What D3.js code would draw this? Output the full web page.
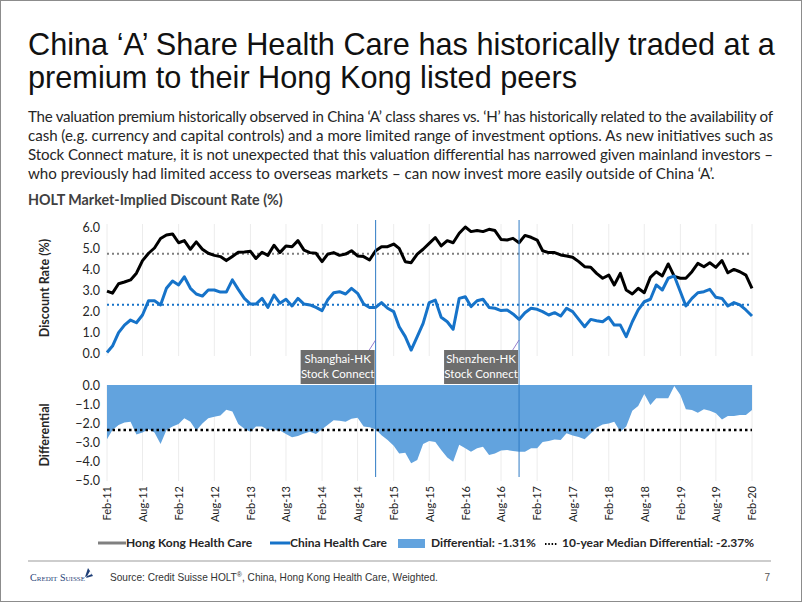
<!DOCTYPE html>
<html><head><meta charset="utf-8">
<script src="https://cdn.jsdelivr.net/npm/d3@7/dist/d3.min.js"></script>
<style>
html,body{margin:0;padding:0;background:#fff;}
svg{display:block;}
</style></head>
<body>
<svg id="chart" width="802" height="602"></svg>
<script>
// ---------- DATA ----------
const startMonth = new Date(2011, 1, 1);   // Feb-11
const endMonth   = new Date(2020, 1, 1);   // Feb-20 (monthly)
const hongKong = [2.95,2.85,3.3,3.38,3.48,3.8,4.4,4.75,5.0,5.45,5.62,5.67,5.25,5.35,4.94,5.29,4.94,4.75,4.65,4.59,
  4.4,4.6,4.8,4.81,4.84,4.5,4.8,4.65,5.13,4.78,5.1,5.06,5.35,4.9,4.78,4.75,4.35,4.7,4.78,4.65,
  4.71,4.87,4.62,4.59,4.43,4.87,5.06,5.06,5.19,4.98,4.35,4.3,4.71,4.94,5.22,5.5,5.1,5.35,5.25,5.7,
  6.0,5.78,5.83,5.78,5.89,5.83,5.41,5.38,5.46,5.25,5.6,5.51,5.38,4.87,4.78,4.78,4.67,4.62,4.56,4.35,
  4.11,4.08,3.79,3.56,3.71,3.24,3.79,3.0,2.81,3.08,2.87,3.6,3.87,3.67,4.24,3.65,3.56,3.56,3.87,4.27,
  4.11,4.3,4.08,4.4,3.82,3.98,3.87,3.71,3.08];
const china = [0.02,0.33,0.97,1.33,1.57,1.44,1.81,2.49,2.49,2.29,3.08,3.43,3.24,3.63,3.08,2.81,2.71,3.0,3.0,2.9,
  2.9,3.48,3.03,2.6,2.33,2.33,2.6,2.17,2.76,2.37,2.56,2.24,2.6,2.33,2.29,2.17,2.02,2.52,2.87,2.92,
  2.81,3.08,2.84,2.33,2.17,2.17,2.4,2.13,1.97,1.25,0.78,0.14,0.78,1.41,2.4,2.52,1.7,1.49,1.13,2.6,
  2.68,2.21,2.49,2.56,2.17,2.13,2.02,2.05,1.86,1.6,1.92,2.13,2.08,1.97,1.81,1.92,1.76,2.13,1.97,1.6,
  1.25,1.6,1.54,1.49,1.7,1.33,1.33,0.78,1.49,2.05,2.44,2.56,3.24,3.0,3.56,3.67,2.92,2.24,2.6,2.87,
  2.92,3.03,2.65,2.6,2.24,2.4,2.29,2.05,1.76];
const differential = [-2.86,-2.37,-2.1,-1.98,-1.93,-2.6,-2.5,-2.33,-2.5,-3.1,-2.37,-2.19,-2.05,-1.75,-1.93,-2.4,-2.02,-1.75,-1.67,-1.6,
  -1.3,-1.4,-2.05,-2.3,-2.46,-2.19,-2.19,-2.37,-2.38,-2.4,-2.58,-2.75,-2.68,-2.55,-2.46,-2.58,-2.33,-2.1,-1.85,-1.88,
  -1.93,-1.78,-1.72,-2.19,-2.23,-2.33,-2.65,-2.9,-3.2,-3.6,-3.56,-4.12,-3.95,-3.1,-2.95,-3.0,-3.42,-3.81,-4.04,-3.15,
  -3.33,-3.51,-3.33,-3.25,-3.68,-3.6,-3.45,-3.42,-3.48,-3.51,-3.51,-3.33,-3.33,-3.0,-2.95,-2.87,-2.89,-2.54,-2.66,-2.74,
  -2.86,-2.55,-2.25,-2.08,-2.02,-1.93,-2.46,-2.19,-1.35,-1.1,-0.47,-1.05,-0.7,-0.7,-0.7,-0.05,-0.53,-1.28,-1.32,-1.46,
  -1.28,-1.35,-1.49,-1.81,-1.63,-1.63,-1.58,-1.58,-1.31];
const hkMedian = 4.73, chinaMedian = 2.3, diffMedian = -2.37;
const topTicks = [0,1,2,3,4,5,6];
const bottomTicks = [0,-1,-2,-3,-4,-5];
const xTickLabels = ["Feb-11","Aug-11","Feb-12","Aug-12","Feb-13","Aug-13","Feb-14","Aug-14","Feb-15","Aug-15",
  "Feb-16","Aug-16","Feb-17","Aug-17","Feb-18","Aug-18","Feb-19","Aug-19","Feb-20"];
const events = [
  {lines:["Shanghai-HK","Stock Connect"], date:new Date(2014,10,1)},
  {lines:["Shenzhen-HK","Stock Connect"], date:new Date(2016,10,1)}
];
const legendItems = ["Hong Kong Health Care","China Health Care","Differential: -1.31%","10-year Median Differential: -2.37%"];
const titleLines = ["China \u2018A\u2019 Share Health Care has historically traded at a","premium to their Hong Kong listed peers"];
const paraLines = [
  "The valuation premium historically observed in China \u2018A\u2019 class shares vs. \u2018H\u2019 has historically related to the availability of",
  "cash (e.g. currency and capital controls) and a more limited range of investment options. As new initiatives such as",
  "Stock Connect mature, it is not unexpected that this valuation differential has narrowed given mainland investors \u2013",
  "who previously had limited access to overseas markets \u2013 can now invest more easily outside of China \u2018A\u2019."
];

// ---------- SETUP ----------
const months = d3.timeMonth.range(startMonth, d3.timeMonth.offset(endMonth, 1));
const parseTick = d3.timeParse("%b-%y");
const tickDates = xTickLabels.map(parseTick);
const svg = d3.select("#chart");
const chartFont = "Lato, 'Open Sans', sans-serif";
const C_BLUE = "#1673c9", C_AREA = "#62a3de", C_TXT = "#262626";

const x = d3.scaleTime().domain([startMonth, endMonth]).range([107, 752]);
const yTop = d3.scaleLinear().domain([0, 6]).range([353, 227]);
const yBot = d3.scaleLinear().domain([-5, 0]).range([480, 385]);

function fitWidth(sel, target) {
  const w = sel.node().getComputedTextLength();
  const fs = parseFloat(sel.attr("font-size"));
  return fs * target / w;
}

// frame
svg.append("rect").attr("x",0.5).attr("y",0.5).attr("width",801).attr("height",601)
  .attr("fill","none").attr("stroke","#8c8c8c").attr("stroke-width",1);

// title
const tl = svg.append("g");
const t1 = tl.append("text").attr("x",28).attr("y",55).attr("font-family","'Liberation Sans', Arial, sans-serif")
  .attr("font-size",30).attr("fill","#111").text(titleLines[0]);
const tfs = fitWidth(t1, 747);
t1.attr("font-size", tfs);
tl.append("text").attr("x",28).attr("y",88).attr("font-family","'Liberation Sans', Arial, sans-serif")
  .attr("font-size",tfs).attr("fill","#111").text(titleLines[1]);

// paragraph
const pg = svg.append("g");
const pBase = [122,141,160,179];
const p4 = pg.append("text").attr("x",28).attr("y",pBase[3]).attr("font-family",chartFont)
  .attr("font-size",14).attr("fill",C_TXT).text(paraLines[3]);
const pfs = fitWidth(p4, 687);
p4.attr("font-size", pfs);
paraLines.slice(0,3).forEach((s,i)=>{
  pg.append("text").attr("x",28).attr("y",pBase[i]).attr("font-family",chartFont)
    .attr("font-size",pfs).attr("fill",C_TXT).attr("textLength",745).attr("lengthAdjust","spacing").text(s);
});

// chart subtitle
const st = svg.append("text").attr("x",28).attr("y",205).attr("font-family",chartFont).attr("font-weight","bold")
  .attr("font-size",13).attr("fill","#404040").text("HOLT Market-Implied Discount Rate (%)");
st.attr("font-size", fitWidth(st, 255));

// gridlines
const grid = svg.append("g").attr("stroke","#ececec").attr("stroke-width",1);
tickDates.forEach(d=>{
  grid.append("line").attr("x1",x(d)).attr("x2",x(d)).attr("y1",224).attr("y2",356);
  grid.append("line").attr("x1",x(d)).attr("x2",x(d)).attr("y1",385).attr("y2",481);
});

// y axes
function styleAxis(g){
  g.select(".domain").remove();
  g.selectAll("line").remove();
  g.selectAll("text").attr("font-family",chartFont).attr("font-size",12.5).attr("fill",C_TXT);
}
svg.append("g").attr("transform","translate(100,0)")
  .call(d3.axisLeft(yTop).tickValues(topTicks).tickFormat(d3.format(".1f")).tickSize(0).tickPadding(0))
  .call(styleAxis);
svg.append("g").attr("transform","translate(100,0)")
  .call(d3.axisLeft(yBot).tickValues(bottomTicks).tickFormat(d3.format(".1f")).tickSize(0).tickPadding(0))
  .call(styleAxis);

// y titles
svg.append("text").attr("transform","translate(49,288) rotate(-90)").attr("text-anchor","middle")
  .attr("font-family",chartFont).attr("font-weight","bold").attr("font-size",12.5).attr("fill",C_TXT).text("Discount Rate (%)");
svg.append("text").attr("transform","translate(49,435) rotate(-90)").attr("text-anchor","middle")
  .attr("font-family",chartFont).attr("font-weight","bold").attr("font-size",12.5).attr("fill",C_TXT).text("Differential");

// x axis (labels only)
const xa = svg.append("g").attr("transform","translate(0,484)")
  .call(d3.axisBottom(x).tickValues(tickDates).tickFormat(d3.timeFormat("%b-%y")).tickSize(0));
xa.select(".domain").remove();
xa.selectAll("text").attr("font-family",chartFont).attr("font-size",11).attr("fill",C_TXT)
  .attr("transform","rotate(-90)").attr("text-anchor","end").attr("x",-2).attr("y",0).attr("dy","0.35em");

// differential area
const area = d3.area().x((d,i)=>x(months[i])).y0(yBot(0)).y1(d=>yBot(d));
svg.append("path").datum(differential).attr("d",area).attr("fill",C_AREA);

// medians
svg.append("line").attr("x1",x(startMonth)).attr("x2",x(endMonth)).attr("y1",yTop(hkMedian)).attr("y2",yTop(hkMedian))
  .attr("stroke","#7f7f7f").attr("stroke-width",2).attr("stroke-dasharray","2,3");
svg.append("line").attr("x1",x(startMonth)).attr("x2",x(endMonth)).attr("y1",yTop(chinaMedian)).attr("y2",yTop(chinaMedian))
  .attr("stroke",C_BLUE).attr("stroke-width",2).attr("stroke-dasharray","2,3");
svg.append("line").attr("x1",x(startMonth)).attr("x2",x(endMonth)).attr("y1",yBot(diffMedian)).attr("y2",yBot(diffMedian))
  .attr("stroke","#000").attr("stroke-width",2.5).attr("stroke-dasharray","2.5,3");

// lines
const line = scale => d3.line().x((d,i)=>x(months[i])).y(d=>scale(d)).curve(d3.curveLinear);
svg.append("path").datum(hongKong).attr("d",line(yTop)).attr("fill","none").attr("stroke","#000")
  .attr("stroke-width",3).attr("stroke-linejoin","round");
svg.append("path").datum(china).attr("d",line(yTop)).attr("fill","none").attr("stroke",C_BLUE)
  .attr("stroke-width",3).attr("stroke-linejoin","round");

// events
events.forEach(ev=>{
  const ex = x(ev.date);
  svg.append("line").attr("x1",ex).attr("x2",ex).attr("y1",220).attr("y2",477)
    .attr("stroke","#2e7bc4").attr("stroke-width",1);
  svg.append("line").attr("x1",ex-7).attr("x2",ex).attr("y1",351).attr("y2",340)
    .attr("stroke","#7b5fc0").attr("stroke-width",0.8);
  svg.append("rect").attr("x",ex-75).attr("y",350).attr("width",74).attr("height",34).attr("fill","#6d6d6d");
  ev.lines.forEach((s,i)=>{
    svg.append("text").attr("x",ex-38).attr("y",363+i*15).attr("text-anchor","middle")
      .attr("font-family",chartFont).attr("font-size",11.5).attr("fill","#fff").text(s);
  });
});

// legend
const lg = svg.append("g").attr("font-family",chartFont).attr("font-weight","bold").attr("font-size",12).attr("fill",C_TXT);
lg.append("line").attr("x1",98).attr("x2",126).attr("y1",543).attr("y2",543).attr("stroke","#808080").attr("stroke-width",3);
lg.append("text").attr("x",126).attr("y",547).text(legendItems[0]);
lg.append("line").attr("x1",270).attr("x2",290).attr("y1",543).attr("y2",543).attr("stroke",C_BLUE).attr("stroke-width",3);
lg.append("text").attr("x",290).attr("y",547).text(legendItems[1]);
lg.append("rect").attr("x",398).attr("y",539).attr("width",27).attr("height",9).attr("fill",C_AREA);
lg.append("text").attr("x",431).attr("y",547).text(legendItems[2]);
lg.append("line").attr("x1",545).attr("x2",558).attr("y1",544).attr("y2",544).attr("stroke","#000")
  .attr("stroke-width",1.8).attr("stroke-dasharray","1.5,1.8");
lg.append("text").attr("x",562).attr("y",547).text(legendItems[3]);

// footer
svg.append("line").attr("x1",28).attr("x2",771).attr("y1",561).attr("y2",561).attr("stroke","#bdbdbd").attr("stroke-width",1.5);
svg.append("text").attr("x",30).attr("y",581).attr("font-family","'Liberation Serif', serif").attr("font-size",10)
  .attr("font-variant","small-caps").attr("fill","#1f3f77").attr("textLength",55).attr("lengthAdjust","spacingAndGlyphs").text("Credit Suisse");
svg.append("path").attr("d","M85,577 L88,568 L92,574 Z M86,578 L93,576 L90,571 Z").attr("fill","#1f3f77");
const src = svg.append("text").attr("x",110).attr("y",581).attr("font-family","'Liberation Sans', Arial, sans-serif")
  .attr("font-size",11).attr("fill","#333");
src.append("tspan").text("Source: Credit Suisse HOLT");
src.append("tspan").attr("font-size",7).attr("dy",-4).text("\u00AE");
src.append("tspan").attr("dy",4).text(", China, Hong Kong Health Care, Weighted.");
const srcW = src.node().getComputedTextLength();
src.attr("font-size", 11 * 328 / srcW);
svg.append("text").attr("x",770).attr("y",581).attr("text-anchor","end").attr("font-family","'Liberation Sans', Arial, sans-serif")
  .attr("font-size",10).attr("fill","#555").text("7");
</script>
</body></html>
